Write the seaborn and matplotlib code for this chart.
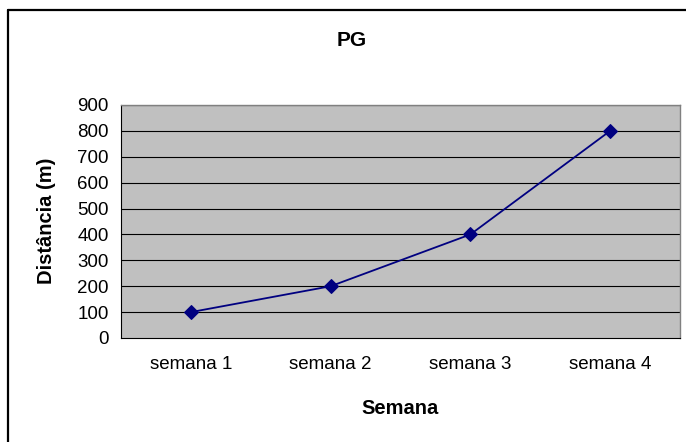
import matplotlib
matplotlib.use("Agg")
import matplotlib.pyplot as plt
from matplotlib.lines import Line2D
from matplotlib.ticker import FixedLocator, NullFormatter
import seaborn as sns
import pandas as pd

categories = ["semana 1", "semana 2", "semana 3", "semana 4"]
distances = [100, 200, 400, 800]
y_ticks = [0, 100, 200, 300, 400, 500, 600, 700, 800, 900]

sns.set_style("white")
plt.rcParams["font.family"] = ["Liberation Sans", "DejaVu Sans"]
plt.rcParams["text.color"] = "black"
plt.rcParams["xtick.color"] = "black"
plt.rcParams["ytick.color"] = "black"

W, H = 686, 442
fig = plt.figure(figsize=(W / 100, H / 100), dpi=100)
fig.patch.set_facecolor("white")

left, right, top, bottom = 121, 680, 105, 338
ax = fig.add_axes([left / W, 1 - bottom / H, (right - left) / W, (bottom - top) / H])
ax.set_facecolor("#C0C0C0")

df = pd.DataFrame({"Semana": categories, "Dist": distances})
df["pos"] = range(len(categories))
sns.lineplot(data=df, x="pos", y="Dist", ax=ax, color="#000080", linewidth=1.3,
             marker="D", markersize=7, markeredgecolor="#000080", markerfacecolor="#000080")

ax.set_xlim(-0.5, len(categories) - 0.5)
ax.set_ylim(0, 900)
ax.set_yticks(y_ticks)
ax.set_yticklabels([str(v) for v in y_ticks], fontsize=13.5, color="black")
for v in y_ticks[1:]:
    ax.axhline(v, color="#000000", linewidth=0.8, zorder=0.5)

# major ticks at category boundaries, labels on minor ticks (centers)
ax.xaxis.set_major_locator(FixedLocator([i - 0.5 for i in range(len(categories) + 1)]))
ax.xaxis.set_major_formatter(NullFormatter())
ax.xaxis.set_minor_locator(FixedLocator(list(range(len(categories)))))
ax.set_xticklabels(categories, minor=True, fontsize=13.5, color="black")
ax.tick_params(axis="x", which="minor", length=0, pad=13)
ax.tick_params(axis="x", which="major", length=5, width=0.8, color="black", direction="out")
ax.tick_params(axis="y", length=5, width=0.8, color="black", direction="out", pad=4)

for s in ["top", "right"]:
    ax.spines[s].set_color("#808080")
    ax.spines[s].set_linewidth(1.0)
for s in ["left", "bottom"]:
    ax.spines[s].set_color("black")
    ax.spines[s].set_linewidth(0.8)

ax.set_xlabel("")
ax.set_ylabel("")

fig.text(352 / W, 1 - 40 / H, "PG", ha="center", va="center", fontsize=15, fontweight="bold",
         color="black")
fig.text(400 / W, 1 - 408 / H, "Semana", ha="center", va="center", fontsize=14.5,
         fontweight="bold", color="black")
fig.text(47 / W, 1 - 221 / H, "Distância (m)", ha="center", va="center", fontsize=14.5,
         fontweight="bold", rotation=90, color="black")

# chart border
bx, by = 8 / W, 1 - 9.5 / H
fig.add_artist(Line2D([bx, bx], [0, by], transform=fig.transFigure, color="black", linewidth=1.6))
fig.add_artist(Line2D([bx, 1], [by, by], transform=fig.transFigure, color="black", linewidth=1.6))

fig.savefig("out.png", dpi=100)
